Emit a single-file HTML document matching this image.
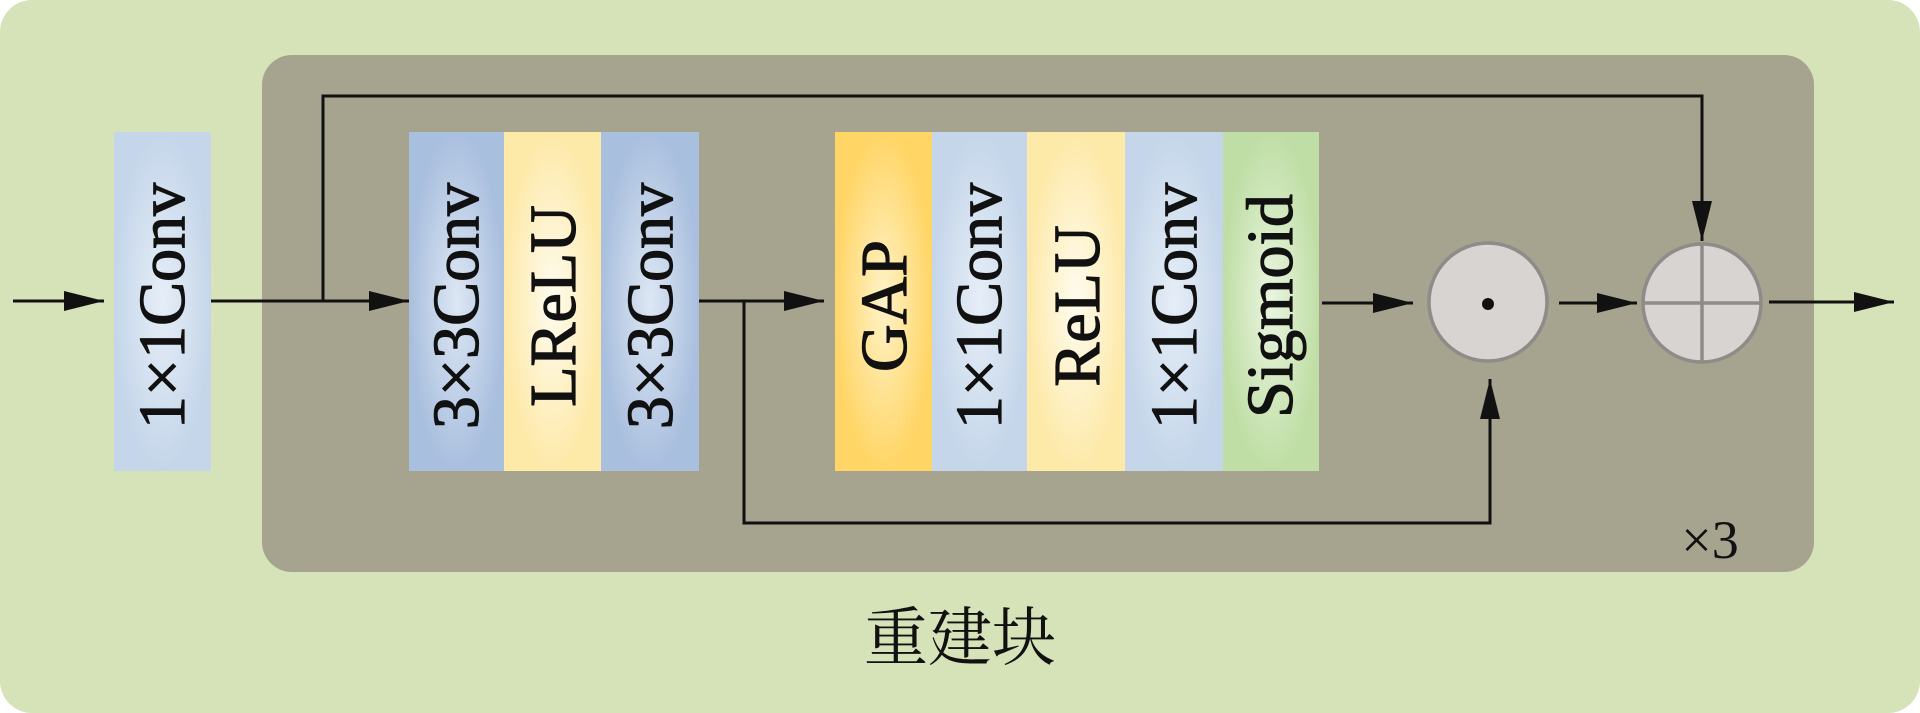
<!DOCTYPE html>
<html><head><meta charset="utf-8"><style>
html,body{margin:0;padding:0;background:#fff;}
svg{display:block;}
</style></head><body>
<svg width="1920" height="713" viewBox="0 0 1920 713" xmlns="http://www.w3.org/2000/svg">
<defs>
<radialGradient id="gb" cx="0.5" cy="0.5" r="0.5"><stop offset="0" stop-color="#e6eef7"/><stop offset="1" stop-color="#c5d6ea"/></radialGradient>
<radialGradient id="gb2" cx="0.5" cy="0.5" r="0.5"><stop offset="0" stop-color="#dde7f4"/><stop offset="1" stop-color="#a9bfde"/></radialGradient>
<radialGradient id="gy" cx="0.5" cy="0.5" r="0.5"><stop offset="0" stop-color="#fffcf0"/><stop offset="1" stop-color="#fde9a8"/></radialGradient>
<radialGradient id="go" cx="0.5" cy="0.5" r="0.5"><stop offset="0" stop-color="#fff3c8"/><stop offset="1" stop-color="#ffd566"/></radialGradient>
<radialGradient id="gg" cx="0.5" cy="0.5" r="0.5"><stop offset="0" stop-color="#eaf5e0"/><stop offset="1" stop-color="#bfdea5"/></radialGradient>
<marker id="ah" markerWidth="40" markerHeight="24" refX="40" refY="12" orient="auto" markerUnits="userSpaceOnUse"><path d="M0,2 L40,12 L0,22 Z" fill="#111"/></marker>
</defs>
<rect x="0" y="0" width="1920" height="713" rx="32" fill="#d6e2b8"/>
<rect x="262" y="55" width="1552" height="517" rx="30" fill="#a6a38f"/>

<rect x="114" y="132" width="97" height="339" fill="url(#gb)"/>
<rect x="409" y="132" width="95" height="339" fill="url(#gb2)"/>
<rect x="504" y="132" width="97" height="339" fill="url(#gy)"/>
<rect x="601" y="132" width="98" height="339" fill="url(#gb2)"/>
<rect x="835" y="132" width="97" height="339" fill="url(#go)"/>
<rect x="932" y="132" width="95" height="339" fill="url(#gb)"/>
<rect x="1027" y="132" width="98" height="339" fill="url(#gy)"/>
<rect x="1125" y="132" width="98" height="339" fill="url(#gb)"/>
<rect x="1223" y="132" width="96" height="339" fill="url(#gg)"/>

<g font-family="'Liberation Serif', serif" font-size="66" fill="#111" stroke="#111" stroke-width="1.2" text-anchor="middle">
<text transform="translate(184,306) rotate(-90)">1×1Conv</text>
<text transform="translate(478,306) rotate(-90)">3×3Conv</text>
<text transform="translate(575,306) rotate(-90)">LReLU</text>
<text transform="translate(672,306) rotate(-90)">3×3Conv</text>
<text transform="translate(906,306) rotate(-90)">GAP</text>
<text transform="translate(1001,306) rotate(-90)">1×1Conv</text>
<text transform="translate(1099,306) rotate(-90)">ReLU</text>
<text transform="translate(1196,306) rotate(-90)">1×1Conv</text>
<text transform="translate(1292,306) rotate(-90)">Sigmoid</text>
</g>

<g stroke="#111" stroke-width="3" fill="none">
<line x1="13" y1="301" x2="104" y2="301" marker-end="url(#ah)"/>
<line x1="211" y1="301" x2="409" y2="301" marker-end="url(#ah)"/>
<polyline points="323,301 323,96 1702,96 1702,241" marker-end="url(#ah)"/>
<line x1="699" y1="301" x2="824" y2="301" marker-end="url(#ah)"/>
<polyline points="744,301 744,523 1490,523 1490,379" marker-end="url(#ah)"/>
<line x1="1322" y1="303" x2="1413" y2="303" marker-end="url(#ah)"/>
<line x1="1559" y1="303" x2="1637" y2="303" marker-end="url(#ah)"/>
<line x1="1769" y1="302" x2="1894" y2="302" marker-end="url(#ah)"/>
</g>

<circle cx="1488" cy="302" r="59" fill="#d8d4d1" stroke="#8e8b88" stroke-width="3.5"/>
<circle cx="1488" cy="304" r="6" fill="#111"/>
<circle cx="1702" cy="303" r="59" fill="#d8d4d1" stroke="#8e8b88" stroke-width="3.5"/>
<line x1="1643" y1="303" x2="1761" y2="303" stroke="#8e8b88" stroke-width="3.5"/>
<line x1="1702" y1="244" x2="1702" y2="362" stroke="#8e8b88" stroke-width="3.5"/>

<text x="1710" y="558" font-family="'Liberation Serif', serif" font-size="54" fill="#111" text-anchor="middle">×3</text>
<text x="960" y="660" font-size="64" fill="#111" text-anchor="middle" font-family="'Noto Serif CJK SC', serif">重建块</text>
</svg>
</body></html>
